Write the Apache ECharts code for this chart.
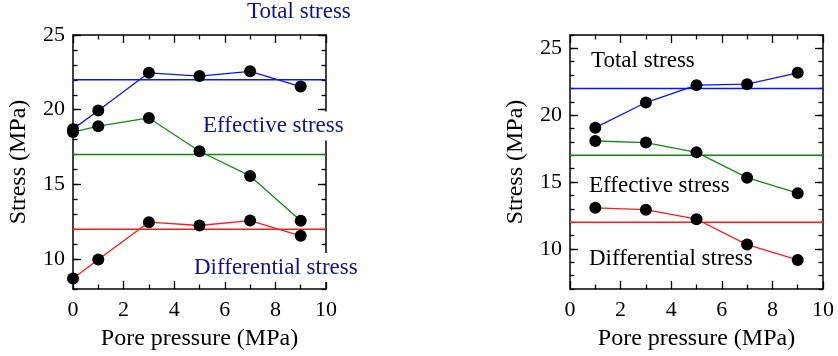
<!DOCTYPE html>
<html>
<head>
<meta charset="utf-8">
<script src="https://cdn.jsdelivr.net/npm/echarts@6/dist/echarts.min.js"></script>
<style>
html,body{margin:0;padding:0;background:#fff;}
#chart{width:838px;height:356px;}
</style>
</head>
<body>
<div id="chart"></div>
<script>
// ---- data ----
var leftPore = [0, 1, 3, 5, 7, 9];
var leftTotal = [18.7, 19.95, 22.47, 22.25, 22.57, 21.55];
var leftEffective = [18.5, 18.9, 19.45, 17.22, 15.57, 12.57];
var leftDifferential = [8.7, 9.97, 12.47, 12.25, 12.58, 11.56];

var rightPore = [1, 3, 5, 7, 9];
var rightTotal = [19.07, 20.95, 22.25, 22.32, 23.17];
var rightEffective = [18.07, 17.95, 17.22, 15.33, 14.17];
var rightDifferential = [13.07, 12.93, 12.22, 10.32, 9.17];

var refTotal = 22, refEffective = 17, refDifferential = 12;
var xRange = [0, 10];
var yMajorTicks = [10, 15, 20, 25];
var labelsText = ['Total stress', 'Effective stress', 'Differential stress'];

var FONT = 'Liberation Serif';
var COL = {total: '#0a14ff', eff: '#128a12', diff: '#ff1a1a'};

function pairs(xs, ys) { return xs.map(function (x, i) { return [x, ys[i]]; }); }
function refLine(v) { return [[xRange[0], v], [xRange[1], v]]; }

var grids = [
  {left: 73, right: 512, top: 35, bottom: 67},
  {left: 570, right: 15, top: 35, bottom: 67}
];
var yRanges = [[8, 25], [7, 26]];

var xAxes = [], yAxes = [], series = [];
grids.forEach(function (g, gi) {
  xAxes.push({
    gridIndex: gi, type: 'value', position: 'bottom', min: 0, max: 10, interval: 2,
    name: 'Pore pressure (MPa)', nameLocation: 'middle', nameGap: 38,
    nameTextStyle: {fontFamily: FONT, fontSize: 24, color: '#000'},
    axisLine: {show: true, onZero: false, lineStyle: {color: '#000', width: 1.5}},
    axisTick: {show: true, inside: true, length: 8, lineStyle: {color: '#000', width: 1.3}},
    minorTick: {show: true, splitNumber: 2, length: 4.5, lineStyle: {color: '#000', width: 1.3}},
    axisLabel: {fontFamily: FONT, fontSize: 22, color: '#000', margin: 10},
    splitLine: {show: false}
  });
  xAxes.push({
    gridIndex: gi, type: 'value', position: 'top', min: 0, max: 10, interval: 2,
    axisLine: {show: true, onZero: false, lineStyle: {color: '#000', width: 1.5}},
    axisTick: {show: true, inside: true, length: 8, lineStyle: {color: '#000', width: 1.3}},
    minorTick: {show: true, splitNumber: 2, length: 4.5, lineStyle: {color: '#000', width: 1.3}},
    axisLabel: {show: false}, splitLine: {show: false}
  });
  var yr = yRanges[gi];
  ['left', 'right'].forEach(function (pos) {
    yAxes.push({
      gridIndex: gi, type: 'value', position: pos, min: yr[0], max: yr[1], interval: 1,
      axisLine: {show: true, onZero: false, lineStyle: {color: '#000', width: 1.5}},
      axisTick: {show: true, inside: true, length: 4.5, lineStyle: {color: '#000', width: 1.3}},
      axisLabel: {show: false}, splitLine: {show: false}
    });
    var major = {
      gridIndex: gi, type: 'value', position: pos, min: yr[0], max: yr[1],
      axisLine: {show: false, onZero: false},
      axisTick: {show: true, inside: true, length: 8, customValues: yMajorTicks, lineStyle: {color: '#000', width: 1.3}},
      axisLabel: {show: pos === 'left', customValues: yMajorTicks, fontFamily: FONT, fontSize: 22, color: '#000', margin: 8},
      splitLine: {show: false}
    };
    if (pos === 'left') {
      major.name = 'Stress (MPa)';
      major.nameLocation = 'middle';
      major.nameGap = 42;
      major.nameTextStyle = {fontFamily: FONT, fontSize: 24, color: '#000'};
    }
    yAxes.push(major);
  });
});

function addSeries(gi, xs, vals, color, ref) {
  var xi = gi * 2, yi = gi * 4 + 1;
  series.push({
    type: 'line', xAxisIndex: xi, yAxisIndex: yi, data: refLine(ref),
    showSymbol: false, symbol: 'none', lineStyle: {color: color, width: 1.5}, z: 2, silent: true
  });
  series.push({
    type: 'line', xAxisIndex: xi, yAxisIndex: yi, data: pairs(xs, vals),
    symbol: 'circle', symbolSize: 12, itemStyle: {color: '#000'},
    lineStyle: {color: color, width: 1.3}, z: 3, silent: true
  });
}
addSeries(0, leftPore, leftTotal, COL.total, refTotal);
addSeries(0, leftPore, leftEffective, COL.eff, refEffective);
addSeries(0, leftPore, leftDifferential, COL.diff, refDifferential);
addSeries(1, rightPore, rightTotal, COL.total, refTotal);
addSeries(1, rightPore, rightEffective, COL.eff, refEffective);
addSeries(1, rightPore, rightDifferential, COL.diff, refDifferential);

function txt(t, x, y, color, bg) {
  var st = {text: t, fill: color, fontFamily: FONT, fontSize: 23, verticalAlign: 'middle'};
  if (bg) { st.backgroundColor = '#fff'; st.padding = [3, 2, 3, 2]; }
  return {type: 'text', x: x, y: y, z: 100, zlevel: 1, style: st};
}

var chart = echarts.init(document.getElementById('chart'), null, {renderer: 'canvas'});
chart.setOption({
  backgroundColor: '#fff',
  animation: false,
  grid: grids,
  xAxis: xAxes,
  yAxis: yAxes,
  series: series,
  graphic: [
    txt(labelsText[0], 245, 11.5, '#121288', true),
    txt(labelsText[1], 201, 126, '#121288', true),
    txt(labelsText[2], 192, 267.5, '#121288', true),
    txt(labelsText[0], 591, 60.5, '#000', false),
    txt(labelsText[1], 589, 185.5, '#000', false),
    txt(labelsText[2], 589, 259, '#000', false)
  ]
});
</script>
</body>
</html>
